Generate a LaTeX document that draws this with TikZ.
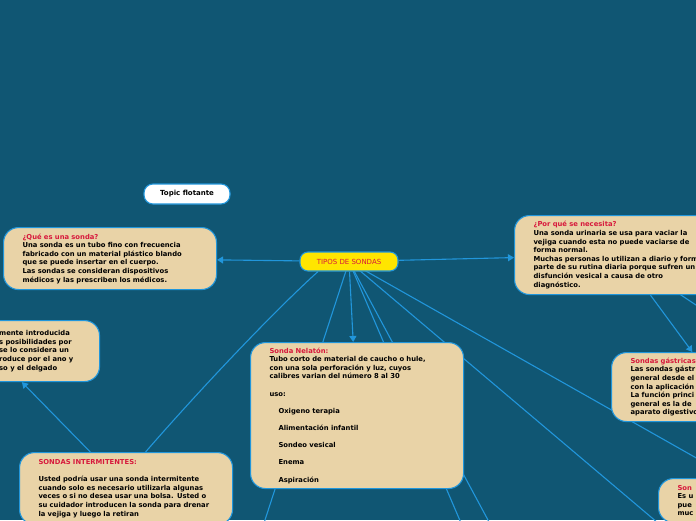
\documentclass[tikz,border=0pt]{standalone}
\usepackage{fontspec}
\setmainfont{DejaVu Sans}
\usetikzlibrary{arrows.meta}

\definecolor{fondo}{RGB}{16,86,115}
\definecolor{arena}{RGB}{233,211,167}
\definecolor{azul}{RGB}{33,150,219}
\definecolor{rojo}{RGB}{215,25,60}
\definecolor{amarillo}{RGB}{255,229,0}

\pgfdeclarelayer{fondocapa}
\pgfdeclarelayer{enlaces}
\pgfsetlayers{fondocapa,enlaces,main}

\newcommand{\titulo}[1]{{\color{rojo}#1}}
\newcommand{\hueco}{\\[8.6pt]}

\begin{document}
\begin{tikzpicture}[x=1pt, y=-1pt,
    topico/.style={draw=azul, line width=1.1pt, fill=arena, rounded corners=15pt,
        anchor=north west, align=left, inner xsep=19pt, inner ysep=3pt,
        minimum width=213pt, text width=175pt, text=black,
        font=\fontsize{6.8}{8.6}\selectfont\bfseries},
    central/.style={draw=azul, line width=1.1pt, fill=amarillo, rounded corners=8pt,
        minimum width=98pt, minimum height=19pt, inner sep=0pt, text=rojo,
        font=\fontsize{7}{8}\selectfont},
    flotante/.style={draw=azul, line width=1.1pt, fill=white, rounded corners=9pt,
        minimum width=86pt, minimum height=20pt, inner sep=0pt,
        font=\fontsize{7}{8}\selectfont\bfseries},
    enlace/.style={draw=azul, line width=1.1pt},
    flecha/.style={enlace, -{Triangle[length=6pt,width=7pt]}}]
            \useasboundingbox (0,0) rectangle (696,520);
            \begin{pgfonlayer}{fondocapa}
                \fill[fondo] (0,0) rectangle (696,520);
            \end{pgfonlayer}
            % NODO CENTRAL
            \node[central] (tipos) at (349,261.5) {TIPOS DE SONDAS};
            \node[flotante] (flot) at (187,194) {Topic flotante};
            % IZQUIERDA
            \node[topico, minimum height=62pt] (queesuna) at (3,227) {\titulo{¿Qué es una sonda?}\\
                Una sonda es un tubo fino con frecuencia\\
                fabricado con un material plástico blando\\
                que se puede insertar en el cuerpo.\\
                Las sondas se consideran dispositivos\\
                médicos y las prescriben los médicos.};
            \node[topico, minimum width=216pt, minimum height=61pt] (rectal) at (-117,320) {};
            \node[font=\fontsize{6.8}{8.6}\selectfont\bfseries, align=left, anchor=west, inner sep=0pt]
                (rectaltxt) at ([xshift=116pt]rectal.west) {mente introducida\\
                s posibilidades por\\
                se lo considera un\\
                roduce por el ano y\\
                so y el delgado};
            \node[topico, minimum height=72pt] (sint) at (19,452) {\titulo{SONDAS INTERMITENTES:}\hueco
                \mbox{Usted podría usar una sonda intermitente}\\
                \mbox{cuando solo es necesario utilizarla algunas}\\
                \mbox{veces o si no desea usar una bolsa. Usted o}\\
                \mbox{su cuidador introducen la sonda para drenar}\\
                la vejiga y luego la retiran};
            % CENTRO
            \node[topico, minimum height=146pt] (nelaton) at (250,342) {\titulo{Sonda Nelatón:}\\
                \mbox{Tubo corto de material de caucho o hule,}\\
                \mbox{con una sola perforación y luz, cuyos}\\
                calibres varian del número 8 al 30\hueco
                uso:\hueco
                \hspace*{9pt}Oxigeno terapia\hueco
                \hspace*{9pt}Alimentación infantil\hueco
                \hspace*{9pt}Sondeo vesical\hueco
                \hspace*{9pt}Enema\hueco
                \hspace*{9pt}Aspiración};
            % DERECHA
            \node[topico, minimum height=79pt] (porque) at (514,215) {\titulo{¿Por qué se necesita?}\\
                \mbox{Una sonda urinaria se usa para vaciar la}\\
                \mbox{vejiga cuando esta no puede vaciarse de}\\
                forma normal.\\
                \mbox{Muchas personas lo utilizan a diario y form}\\
                \mbox{parte de su rutina diaria porque sufren un}\\
                disfunción vesical a causa de otro\\
                diagnóstico.};
            \node[topico, minimum height=69pt] (gastricas) at (611,352) {\titulo{Sondas gástricas}\\
                Las sondas gástr\\
                general desde el\\
                con la aplicación\\
                La función princi\\
                general es la de\\
                aparato digestivo};
            \node[topico, inner xsep=18pt, minimum height=44pt] (son) at (658,478) {\titulo{Son}\\
                Es u\\
                pue\\
                muc};
            % FUERA DEL LIENZO
            \coordinate (fueraA) at (239,600);
            \coordinate (fueraB) at (494,600);
            \coordinate (fueraC) at (531,600);
            \coordinate (fueraD) at (749,600);
            \coordinate (fueraE) at (760,494);
            \coordinate (fueraF) at (780,361);
            % ENLACES
            \begin{pgfonlayer}{enlaces}
                \draw[flecha] (tipos) -- (queesuna);
                \draw[flecha] (tipos) -- (porque);
                \draw[flecha] (tipos) -- (nelaton);
                \draw[enlace] (tipos.center) -- (fueraA);
                \draw[enlace] (tipos.center) -- (fueraB);
                \draw[enlace] (tipos.center) -- (fueraC);
                \draw[enlace] (tipos.center) -- (fueraD);
                \draw[enlace] (tipos.center) -- (fueraE);
                \draw[enlace] ([xshift=-31pt]tipos.south) .. controls (270,315) and (195,395) .. ([xshift=19.5pt]sint.north);
                \draw[flecha] (sint) -- (rectal);
                \draw[flecha] (porque) -- (gastricas);
                \draw[enlace] (porque.center) -- (fueraF);
            \end{pgfonlayer}
        \end{tikzpicture}
\end{document}
